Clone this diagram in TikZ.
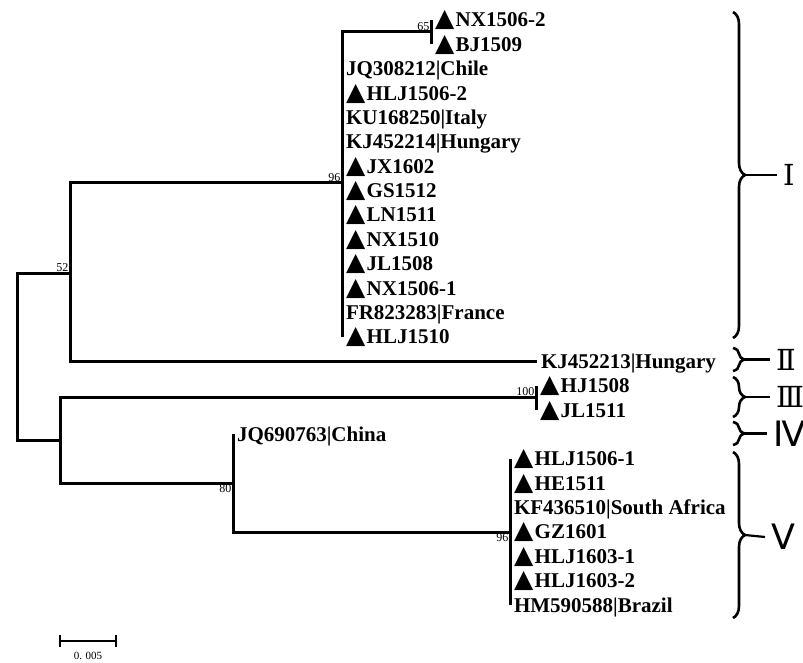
\documentclass[tikz,border=0pt]{standalone}
\usepackage{fontspec}
\setmainfont{Liberation Serif}
\newfontfamily\trifont{DejaVu Sans}
\newfontfamily\romfont{DejaVu Serif}
\newfontfamily\romsans{DejaVu Sans}
\usetikzlibrary{decorations.pathreplacing}
\newcommand{\mk}{{\trifont\fontsize{25}{25}\selectfont ▲}\kern1.5pt}
\tikzset{
	branch/.style={line width=3pt},
	leaf/.style={anchor=west,inner sep=0pt,outer xsep=4pt,text height=14pt,text depth=0pt,
		font=\bfseries\fontsize{21}{21}\selectfont},
	boot/.style={inner sep=1.5pt,font=\fontsize{12}{12}\selectfont},
	clade/.style={decorate,decoration={brace,amplitude=12pt},line width=2.6pt},
	cladelab/.style={anchor=west,inner sep=0pt,outer xsep=6pt,font=\romfont\fontsize{29}{29}\selectfont}
}
\begin{document}
\begin{tikzpicture}[x=1pt,y=-1pt]
	\useasboundingbox (0,0) rectangle (803,663);
	\fill[white] (0,0) rectangle (803,663);
	% Inner nodes
	\coordinate (root) at (17,356);
	\coordinate (n52) at (70,273);
	\coordinate (n96a) at (342,183);
	\coordinate (n65) at (431,32);
	\coordinate (nlow) at (60,440);
	\coordinate (n100) at (536,397);
	\coordinate (n80) at (233,483);
	\coordinate (n96b) at (510,532);
	% Leaves
	\node[leaf] (nx15062) at (431,20) {\mk NX1506-2};
	\node[leaf] (bj1509) at (431,44.4) {\mk BJ1509};
	\foreach \lab [count=\i from 2] in {JQ308212|Chile,\mk HLJ1506-2,KU168250|Italy,
		KJ452214|Hungary,\mk JX1602,\mk GS1512,\mk LN1511,\mk NX1510,\mk JL1508,
		\mk NX1506-1,FR823283|France,\mk HLJ1510}
		\node[leaf] (ca\i) at (342,{20+24.375*\i}) {\lab};
	\node[leaf] (kj452213) at (537,361.25) {KJ452213|Hungary};
	\node[leaf] (hj1508) at (536,385.6) {\mk HJ1508};
	\node[leaf] (jl1511) at (536,410) {\mk JL1511};
	\node[leaf] (jq690763) at (233,434.4) {JQ690763|China};
	\foreach \lab [count=\i from 18] in {\mk HLJ1506-1,\mk HE1511,KF436510|South Africa,
		\mk GZ1601,\mk HLJ1603-1,\mk HLJ1603-2,HM590588|Brazil}
		\node[leaf] (cv\i) at (510,{20+24.375*\i}) {\lab};
	% Branches
	\draw[branch] (root) |- (n52);
	\draw[branch] (root) |- (nlow);
	\draw[branch] (n52) |- (n96a);
	\draw[branch] (n52) |- (kj452213.west);
	\draw[branch] (n96a) |- (n65);
	\draw[branch] (n65) |- (nx15062.west);
	\draw[branch] (n65) |- (bj1509.west);
	\foreach \i in {2,...,13}
		\draw[branch] (n96a) |- (ca\i.west);
	\draw[branch] (nlow) |- (n100);
	\draw[branch] (nlow) |- (n80);
	\draw[branch] (n100) |- (hj1508.west);
	\draw[branch] (n100) |- (jl1511.west);
	\draw[branch] (n80) |- (jq690763.west);
	\draw[branch] (n80) |- (n96b);
	\foreach \i in {18,...,24}
		\draw[branch] (n96b) |- (cv\i.west);
	% Bootstrap values
	\node[boot,anchor=south east] (b52) at (n52) {52};
	\node[boot,anchor=south east] (b96a) at (n96a) {96};
	\node[boot,anchor=south east] (b65) at (n65) {65};
	\node[boot,anchor=south east] (b100) at (n100) {100};
	\node[boot,anchor=north east] (b80) at (n80) {80};
	\node[boot,anchor=north east] (b96b) at (n96b) {96};
	% Scale bar
	\draw[line width=2.6pt] (60,635) -- (60,647) (60,641) -- (116,641) (116,635) -- (116,647);
	\node[boot,font=\fontsize{11}{11}\selectfont] (sbar) at (88,656) {0. 005};
	% Clades
	\draw[clade] (733,12) -- (733,338);
	\draw[clade] (733,348) -- (733,371);
	\draw[clade] (733,377) -- (733,417);
	\draw[clade] (733,422) -- (733,445);
	\draw[clade] (733,452) -- (733,618);
	\coordinate (tI) at (745,175);
	\coordinate (tII) at (745,359.5);
	\coordinate (tIII) at (745,397);
	\coordinate (tIV) at (745,433.5);
	\coordinate (tV) at (745,535);
	\node[cladelab] (cI) at (777,175) {Ⅰ};
	\node[cladelab] (cII) at (770,359.5) {Ⅱ};
	\node[cladelab] (cIII) at (770,397) {Ⅲ};
	\node[cladelab,font=\romsans\fontsize{35}{35}\selectfont] (cIV) at (767,433.5) {Ⅳ};
	\node[cladelab,font=\romsans\fontsize{35}{35}\selectfont] (cV) at (765,537) {Ⅴ};
	\foreach \c in {I,II,III,IV,V}
		\draw[line width=2.2pt] (t\c) -- (c\c.west);
\end{tikzpicture}
\end{document}
